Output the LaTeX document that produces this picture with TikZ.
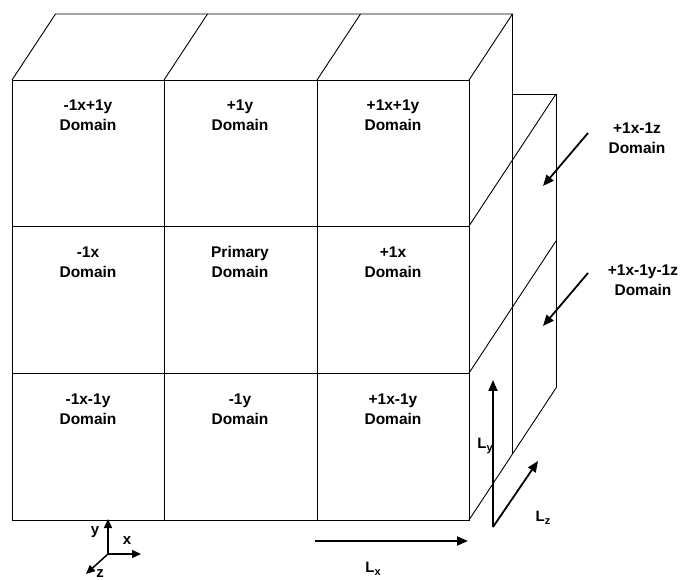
\documentclass[tikz,border=0pt]{standalone}
\usepackage{fontspec}
\setmainfont{Liberation Sans}
\usetikzlibrary{arrows.meta}
\begin{document}
\begin{tikzpicture}[x=1pt,y=-1pt,
  edge/.style={line width=0.9pt},
  lbl/.style={font=\bfseries\fontsize{15.5}{20}\selectfont, align=center, inner sep=0pt},
  dimlbl/.style={font=\bfseries\fontsize{15}{18}\selectfont, inner sep=0pt},
  axlbl/.style={font=\bfseries\fontsize{15}{18}\selectfont, inner sep=0pt},
  bigarrow/.style={line width=1.8pt, -{Triangle[length=11pt,width=9pt]}},
  axarrow/.style={line width=1.5pt, -{Triangle[length=9pt,width=8pt]}}]
\useasboundingbox (0,0) rectangle (681,580);
% front grid
\draw[edge] (12,80) rectangle (469,520);
\draw[edge] (164,80) -- (164,520);
\draw[edge] (317,80) -- (317,520);
\draw[edge] (12,226) -- (469,226);
\draw[edge] (12,373) -- (469,373);
% top face
\draw[edge] (12,80) -- (55.5,14) -- (512.5,14) -- (469,80);
\draw[edge] (164,80) -- (207.5,14);
\draw[edge] (317,80) -- (360.5,14);
% right face of main block
\draw[edge] (512.5,14) -- (512.5,454);
% depth lines continuing into the -1z block
\draw[edge] (469,226) -- (556,94);
\draw[edge] (469,373) -- (556,241);
\draw[edge] (469,520) -- (556,388);
% -1z block outline
\draw[edge] (512.5,94) -- (556,94) -- (556,388);
% cell labels
\node[lbl] (c11) at (88,115) {-1x+1y\\Domain};
\node[lbl] (c12) at (240,115) {+1y\\Domain};
\node[lbl] (c13) at (393,115) {+1x+1y\\Domain};
\node[lbl] (c21) at (88,262) {-1x\\Domain};
\node[lbl] (c22) at (240,262) {Primary\\Domain};
\node[lbl] (c23) at (393,262) {+1x\\Domain};
\node[lbl] (c31) at (88,409) {-1x-1y\\Domain};
\node[lbl] (c32) at (240,409) {-1y\\Domain};
\node[lbl] (c33) at (393,409) {+1x-1y\\Domain};
% side labels and pointers
\node[lbl] (s1) at (637,138) {+1x-1z\\Domain};
\node[lbl] (s2) at (643,280) {+1x-1y-1z\\Domain};
\coordinate (p1s) at (588,133);
\coordinate (p1e) at (543,186);
\coordinate (p2s) at (588,273);
\coordinate (p2e) at (543,326);
\draw[bigarrow] (p1s) -- (p1e);
\draw[bigarrow] (p2s) -- (p2e);
% dimension arrows
\coordinate (dimo) at (493,527);
\coordinate (lyend) at (493,380);
\coordinate (lzend) at (538,461);
\coordinate (lxs) at (315,541);
\coordinate (lxe) at (468,541);
\draw[bigarrow] (dimo) -- (lyend);
\draw[bigarrow] (dimo) -- (lzend);
\draw[bigarrow] (lxs) -- (lxe);
\node[dimlbl] (ly) at (485,446) {L\raisebox{-0.35ex}{\fontsize{11}{11}\selectfont y}};
\node[dimlbl] (lz) at (543,518) {L\raisebox{-0.35ex}{\fontsize{11}{11}\selectfont z}};
\node[dimlbl] (lx) at (373,569) {L\raisebox{-0.35ex}{\fontsize{11}{11}\selectfont x}};
% coordinate axes
\coordinate (ao) at (108,554);
\coordinate (ay) at (108,519);
\coordinate (ax) at (141,554);
\coordinate (az) at (86,574);
\draw[axarrow] (ao) -- (ay);
\draw[axarrow] (ao) -- (ax);
\draw[axarrow] (ao) -- (az);
\node[axlbl] (yl) at (95,532) {y};
\node[axlbl] (xl) at (127,541) {x};
\node[axlbl] (zl) at (100,574) {z};
\end{tikzpicture}
\end{document}
